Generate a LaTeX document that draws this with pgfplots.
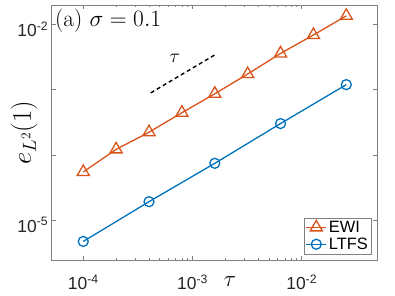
\RequirePackage{fix-cm}
\documentclass[border=0pt]{standalone}
\usepackage{fontspec}
\usepackage{pgfplots}
\pgfplotsset{compat=1.18}
\newfontfamily\hv{Liberation Sans}
\definecolor{ewi}{rgb}{0.85,0.325,0.098}
\definecolor{ltfs}{rgb}{0,0.447,0.741}
\begin{document}
\begin{tikzpicture}
\begin{axis}[
  scale only axis, width=325.6bp, height=255.3bp,
  xmode=log, ymode=log,
  xmin=5.14e-5, xmax=4.92e-2, ymin=2.41e-6, ymax=1.98e-2,
  xtick={1e-4,1e-3,1e-2},
  xticklabels={{10\textsuperscript{-4}},{10\textsuperscript{-3}},{10\textsuperscript{-2}}},
  ytick={1e-5,1e-4,1e-3,1e-2},
  yticklabels={{10\textsuperscript{-5}},{},{},{10\textsuperscript{-2}}},
  ticklabel style={font=\hv\fontsize{17.5}{20}\selectfont, text=black!85},
  xticklabel style={yshift=-11bp},
  yticklabel style={yshift=-5bp},
  axis line style={black!50},
  tick style={black!50, line width=0.5bp},
  major tick length=4bp, minor tick length=2.5bp,
  minor y tick style={draw=none},
  xtick pos=both, ytick pos=both, xticklabel pos=lower, yticklabel pos=left,
  legend cell align=left,
  legend image code/.code={\draw[mark repeat=2,mark phase=2,#1] plot coordinates {(0bp,0bp) (10bp,0bp) (20bp,0bp)};},
  legend style={at={(rel axis cs:0.981,0.025)}, anchor=south east, draw=black!50, fill=white,
    font=\hv\fontsize{16.5}{19}\selectfont, inner sep=1bp, row sep=0bp},
]
\addplot[ewi, line width=1.3bp, mark=triangle, mark size=7bp, mark options={solid}] coordinates {
 (1e-4,5.45e-5) (2e-4,1.21e-4) (4e-4,2.22e-4) (8e-4,4.42e-4) (1.6e-3,8.61e-4)
 (3.2e-3,1.73e-3) (6.4e-3,3.58e-3) (1.28e-2,6.87e-3) (2.56e-2,1.35e-2)};
\addlegendentry{EWI}
\addplot[ltfs, line width=1.3bp, mark=o, mark size=5bp, mark options={solid}] coordinates {
 (1e-4,4.69e-6) (4e-4,1.91e-5) (1.6e-3,7.40e-5) (6.4e-3,3.01e-4) (2.56e-2,1.19e-3)};
\addlegendentry{LTFS}
\addplot[black, line width=1.4bp, dash pattern=on 4bp off 3bp, forget plot] coordinates {
 (4.15e-4,8.9e-4) (1.6e-3,3.4e-3)};
\node[font=\fontsize{19.5}{22}\selectfont] at (axis cs:6.9e-4,3.0e-3) {$\tau$};
\node[anchor=west, font=\fontsize{23.5}{27}\selectfont, inner sep=0pt] at (rel axis cs:0.01,0.94) {(a) $\sigma=0.1$};
\coordinate (sw) at (rel axis cs:0,0);
\coordinate (ml) at (rel axis cs:0,0.5);
\coordinate (bx) at (rel axis cs:0.548,0);
\end{axis}
\node[rotate=90, font=\fontsize{27}{30}\selectfont] at ([xshift=-27.5bp]ml) {$e_{L^2}(1)$};
\node[font=\fontsize{23}{26}\selectfont] at ([yshift=-21bp]bx) {$\tau$};
\pgfresetboundingbox
\path (sw) ++(-51.7bp,-35.7bp) rectangle ++(395bp,296bp);
\end{tikzpicture}
\end{document}
